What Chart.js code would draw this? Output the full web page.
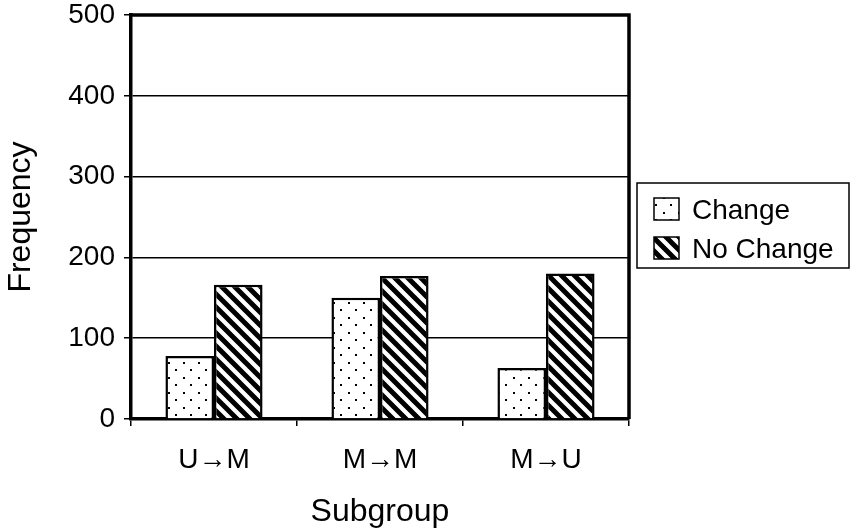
<!DOCTYPE html>
<html>
<head>
<meta charset="utf-8">
<script src="https://cdn.jsdelivr.net/npm/chart.js@4.4.1/dist/chart.umd.min.js"></script>
<style>
  html, body { margin: 0; padding: 0; background: #fff; }
  #wrap { width: 851px; height: 532px; }
</style>
</head>
<body>
<div id="wrap"><canvas id="freqChart" width="851" height="532"></canvas></div>
<script>
const subgroups = ['U\u2192M', 'M\u2192M', 'M\u2192U'];
const changeCounts = [78, 150, 63];
const noChangeCounts = [166, 177, 180];
const yTicks = [0, 100, 200, 300, 400, 500];

const FONT = '"Liberation Sans", Arial, sans-serif';

// dotted fill (staggered dots)
const makeDots = () => {
  const c = document.createElement('canvas');
  c.width = 15; c.height = 15;
  const g = c.getContext('2d');
  g.fillStyle = '#fff';
  g.fillRect(0, 0, 15, 15);
  g.fillStyle = '#000';
  g.fillRect(3, 2, 2, 2);
  g.fillRect(10, 9, 2, 2);
  return g.createPattern(c, 'repeat');
};

// diagonal stripes, top-left to bottom-right
const makeStripes = () => {
  const s = 13;
  const c = document.createElement('canvas');
  c.width = s; c.height = s;
  const g = c.getContext('2d');
  g.fillStyle = '#fff';
  g.fillRect(0, 0, s, s);
  g.strokeStyle = '#000';
  g.lineWidth = 5;
  g.beginPath();
  g.moveTo(-s, 0); g.lineTo(s, 2 * s);
  g.moveTo(-s, -s); g.lineTo(2 * s, 2 * s);
  g.moveTo(0, -s); g.lineTo(2 * s, s);
  g.stroke();
  return g.createPattern(c, 'repeat');
};

const ctx = document.getElementById('freqChart').getContext('2d');
const dots = makeDots();
const stripes = makeStripes();

// top/right frame plus boxed legend on the right
const framePlugin = {
  id: 'frame',
  afterDraw(chart) {
    const { ctx, chartArea: a } = chart;
    ctx.save();
    ctx.strokeStyle = '#000';
    ctx.lineWidth = 3.5;
    ctx.beginPath();
    ctx.moveTo(a.left, a.top);
    ctx.lineTo(a.right, a.top);
    ctx.lineTo(a.right, a.bottom);
    ctx.stroke();

    // legend box
    const bx = 637, by = 183, bw = 212, bh = 85;
    ctx.lineWidth = 1.5;
    ctx.strokeRect(bx, by, bw, bh);
    ctx.font = '28px ' + FONT;
    ctx.textBaseline = 'alphabetic';
    const rows = [219, 258];
    chart.data.datasets.forEach((ds, i) => {
      const y = rows[i];
      ctx.fillStyle = ds.backgroundColor;
      ctx.fillRect(654, y - 21, 25, 22);
      ctx.lineWidth = 1.5;
      ctx.strokeRect(654, y - 21, 25, 22);
      ctx.fillStyle = '#000';
      ctx.fillText(ds.label, 692, y);
    });
    ctx.restore();
  }
};

new Chart(ctx, {
  type: 'bar',
  data: {
    labels: subgroups,
    datasets: [
      {
        label: 'Change',
        data: changeCounts,
        backgroundColor: dots,
        borderColor: '#000',
        borderWidth: 2.5,
      },
      {
        label: 'No Change',
        data: noChangeCounts,
        backgroundColor: stripes,
        borderColor: '#000',
        borderWidth: 2.5,
      },
    ],
  },
  options: {
    responsive: false,
    animation: false,
    devicePixelRatio: 1,
    layout: { padding: { top: 15, right: 222, left: 0, bottom: 0 } },
    plugins: {
      legend: { display: false },
      tooltip: { enabled: false },
    },
    datasets: {
      bar: { barPercentage: 1, categoryPercentage: 0.585 },
    },
    scales: {
      x: {
        afterFit: (s) => { s.height = 113; s.paddingLeft = 0; s.paddingRight = 0; },
        grid: { offset: true, drawOnChartArea: false, color: '#000', lineWidth: 1.5, tickLength: 7 },
        border: { color: '#000', width: 3.5 },
        ticks: { color: '#000', font: { family: FONT, size: 28 }, padding: 17 },
        title: {
          display: true,
          text: 'Subgroup',
          color: '#000',
          font: { family: FONT, size: 32 },
          padding: { top: 0, bottom: 1 },
        },
      },
      y: {
        min: yTicks[0],
        max: yTicks[yTicks.length - 1],
        afterFit: (s) => { s.width = 131; s.paddingTop = 0; s.paddingBottom = 0; },
        afterBuildTicks: (s) => { s.ticks = yTicks.map(v => ({ value: v })); },
        grid: { color: '#000', lineWidth: 1.5, tickLength: 7 },
        border: { color: '#000', width: 3.5 },
        ticks: { color: '#000', font: { family: FONT, size: 28 }, padding: 9 },
        title: {
          display: true,
          text: 'Frequency',
          color: '#000',
          font: { family: FONT, size: 32 },
          padding: { top: 2, bottom: 0 },
        },
      },
    },
  },
  plugins: [framePlugin],
});
</script>
</body>
</html>
